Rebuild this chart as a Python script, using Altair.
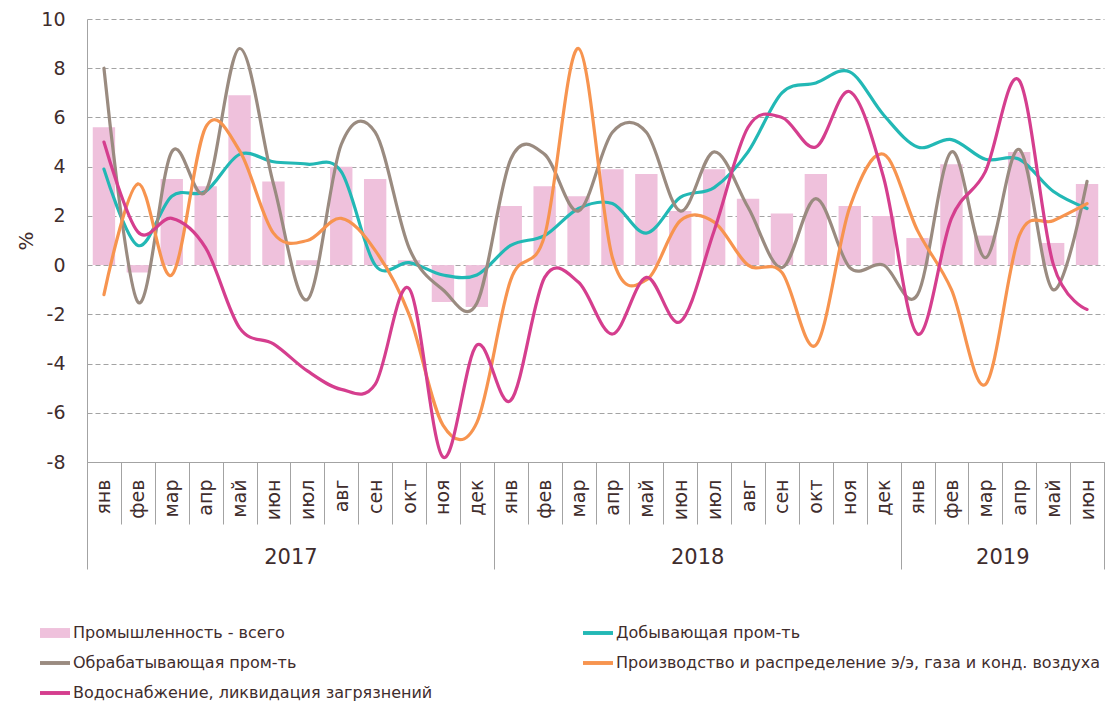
import json
import altair as alt
import pandas as pd

# ---- data ----
month_labels = ["янв", "фев", "мар", "апр", "май", "июн", "июл", "авг", "сен", "окт", "ноя", "дек",
                "янв", "фев", "мар", "апр", "май", "июн", "июл", "авг", "сен", "окт", "ноя", "дек",
                "янв", "фев", "мар", "апр", "май", "июн"]
years = ["2017", "2018", "2019"]
year_months = [12, 12, 6]

s_total = "Промышленность - всего"
s_mining = "Добывающая пром-ть"
s_manuf = "Обрабатывающая пром-ть"
s_power = "Производство и распределение э/э, газа и конд. воздуха"
s_water = "Водоснабжение, ликвидация загрязнений"

total = [5.6, -0.3, 3.5, 3.2, 6.9, 3.4, 0.2, 4.0, 3.5, 0.2, -1.5, -1.7,
         2.4, 3.2, 2.8, 3.9, 3.7, 2.2, 3.9, 2.7, 2.1, 3.7, 2.4, 2.0,
         1.1, 4.1, 1.2, 4.6, 0.9, 3.3]
mining = [3.9, 0.8, 2.8, 3.0, 4.5, 4.2, 4.1, 3.8, 0.0, 0.1, -0.4, -0.4,
          0.8, 1.2, 2.3, 2.5, 1.3, 2.75, 3.15, 4.6, 7.0, 7.4, 7.85, 6.1,
          4.8, 5.1, 4.3, 4.3, 3.0, 2.3]
manuf = [8.0, -1.5, 4.6, 3.0, 8.8, 3.3, -1.4, 4.9, 5.4, 0.7, -1.0, -1.55,
         4.3, 4.5, 2.2, 5.4, 5.4, 2.2, 4.6, 2.35, -0.1, 2.7, -0.1, 0.0,
         -1.2, 4.6, 0.3, 4.7, -1.0, 3.4]
power = [-1.2, 3.3, -0.4, 5.6, 4.65, 1.3, 1.0, 1.9, 0.6, -2.0, -6.5, -6.4,
         -0.6, 1.2, 8.8, 0.3, -0.6, 1.8, 1.75, 0.0, -0.3, -3.25, 2.35, 4.5,
         1.4, -1.0, -4.85, 1.2, 1.8, 2.5]
water = [5.0, 1.35, 1.9, 0.7, -2.55, -3.2, -4.3, -5.05, -4.85, -0.95, -7.8, -3.25,
         -5.5, -0.5, -0.7, -2.8, -0.5, -2.3, 1.4, 5.6, 6.0, 4.8, 7.05, 3.55,
         -2.8, 1.9, 3.8, 7.5, 0.05, -1.8]

series_names = [s_total, s_mining, s_manuf, s_power, s_water]
series_colors = ["#efc1dc", "#22b8b5", "#9a8b80", "#f7944f", "#d53e8e"]

# ---- styling ----
FONT = "DejaVu Sans"
TXT = "#3f2d2d"
GRAY = "#a3a3a3"
n = len(month_labels)
BAR_HALF = 0.33

bar_df = pd.DataFrame({"i": list(range(n)), "value": total, "series": s_total})
bar_df["x0"] = bar_df["i"] - BAR_HALF
bar_df["x1"] = bar_df["i"] + BAR_HALF

line_rows = []
for name, vals in [(s_mining, mining), (s_manuf, manuf), (s_power, power), (s_water, water)]:
    for k, v in enumerate(vals):
        line_rows.append({"i": k, "value": v, "series": name})
line_df = pd.DataFrame(line_rows)

bounds = [-0.5]
centers = []
for c in year_months:
    centers.append(bounds[-1] + c / 2)
    bounds.append(bounds[-1] + c)
bound_df = pd.DataFrame({"b": bounds})
center_df = pd.DataFrame({"c": centers, "year": years})

xscale = alt.Scale(domain=[-0.5, n - 0.5], nice=False, zero=False)
yscale = alt.Scale(domain=[-8, 10], nice=False, zero=False)
yaxis = alt.Axis(values=list(range(-8, 11, 2)), title="%", grid=True, gridDash=[5, 3],
                 gridColor=GRAY, gridWidth=1, domainColor=GRAY, ticks=False,
                 labelExpr="toString(datum.value)",
                 labelPadding=22, labelFontSize=19, labelColor=TXT, labelFont=FONT,
                 titleFontSize=20, titleColor=TXT, titleFont=FONT, titleFontWeight="normal",
                 titlePadding=4)

shape_expr = ("datum.value === '" + s_total +
              "' ? 'M-1,-0.33H1V0.33H-1Z' : 'M-1,-0.13H1V0.13H-1Z'")
legend = alt.Legend(
    title=None, orient="none", legendX=-47, legendY=599, columns=2,
    direction="horizontal",
    columnPadding=150, rowPadding=7, symbolSize=900,
    symbolType={"expr": shape_expr},
    symbolFillColor={"expr": "scale('color', datum.value)"},
    symbolStrokeWidth=0, symbolOpacity=1,
    labelFontSize=16, labelColor=TXT,
    labelFont=FONT, labelOffset=3, labelLimit=800, padding=0)

color = alt.Color("series:N", scale=alt.Scale(domain=series_names, range=series_colors),
                  legend=legend)

bars = alt.Chart(bar_df).mark_bar().encode(
    x=alt.X("x0:Q", scale=xscale, axis=alt.Axis(
        values=bounds[:1] + [k + 0.5 for k in range(n)], labels=False, tickSize=62,
        tickColor=GRAY, domainColor=GRAY, grid=False, title=None, orient="bottom")),
    x2="x1:Q",
    y=alt.Y("value:Q", scale=yscale, axis=yaxis),
    y2=alt.datum(0),
    color=color,
)

month_expr = json.dumps(month_labels, ensure_ascii=False) + "[round(datum.value)]"
lines = alt.Chart(line_df).mark_line(interpolate="cardinal", strokeWidth=3.2, strokeCap="round").encode(
    x=alt.X("i:Q", scale=xscale, axis=alt.Axis(
        values=list(range(n)), labelExpr=month_expr, labelAngle=270, ticks=False,
        domain=False, grid=False, labelPadding=17, labelFontSize=19, labelColor=TXT,
        labelFont=FONT, labelOverlap=False, labelBound=False, labelFlush=False,
        title=None, orient="bottom")),
    y=alt.Y("value:Q", scale=yscale, axis=yaxis),
    color=color,
    detail="series:N",
)

seps = alt.Chart(bound_df).mark_point(opacity=0).encode(
    x=alt.X("b:Q", scale=xscale, axis=alt.Axis(
        values=bounds, labels=False, tickSize=107, tickColor=GRAY, domain=False,
        grid=False, title=None, orient="bottom")),
)

year_expr = json.dumps({str(c): y for c, y in zip(centers, years)}) + "[datum.value]"
year_lbl = alt.Chart(center_df).mark_point(opacity=0).encode(
    x=alt.X("c:Q", scale=xscale, axis=alt.Axis(
        values=centers, labelExpr=year_expr, ticks=False, domain=False, grid=False,
        labelPadding=84, labelFontSize=21, labelColor=TXT, labelFont=FONT,
        labelOverlap=False, title=None, orient="bottom")),
)

chart = alt.layer(bars, lines, seps, year_lbl).resolve_axis(x="independent").properties(
    width=1017, height=443,
    padding={"left": 79, "top": 11, "right": 2, "bottom": 240},
    autosize=alt.AutoSizeParams(type="none"),
).configure_view(stroke=None)

chart.save("out.html", embed_options={"renderer": "svg", "actions": False})
